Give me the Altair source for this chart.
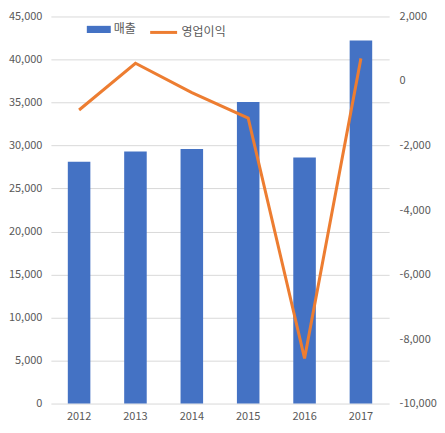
import altair as alt
import pandas as pd

years = ["2012", "2013", "2014", "2015", "2016", "2017"]
sales = [28100, 29300, 29600, 35050, 28600, 42200]
op_income = [-900, 550, -360, -1150, -8600, 700]
sales_name = "매출"
op_name = "영업이익"
left_ticks = list(range(0, 45001, 5000))
right_ticks = list(range(-10000, 2001, 2000))

df = pd.DataFrame({
    "year": years,
    "sales": sales,
    "op": op_income,
    "s1": [sales_name] * len(years),
    "s2": [op_name] * len(years),
})

FONT = "Noto Sans CJK KR"
GRAY = "#595959"
NUMFMT = "(datum.value < 0 ? '-' : '') + format(abs(datum.value), ',.0f')"

x = alt.X("year:N", title=None,
          scale=alt.Scale(paddingInner=0.6, paddingOuter=0.3),
          axis=alt.Axis(labelAngle=0, domain=False, ticks=False, labelPadding=7,
                        labelFont=FONT, labelFontSize=11, labelColor=GRAY))

bars = alt.Chart(df).mark_bar(color="#4472C4").encode(
    x=x,
    y=alt.Y("sales:Q", title=None,
            scale=alt.Scale(domain=[0, 45000], nice=False),
            axis=alt.Axis(orient="left", values=left_ticks, labelExpr=NUMFMT, domain=False,
                          ticks=False, labelPadding=9, grid=True, gridColor="#d9d9d9",
                          labelFont=FONT, labelFontSize=11, labelColor=GRAY)),
    color=alt.Color("s1:N",
                    scale=alt.Scale(domain=[sales_name], range=["#4472C4"]),
                    legend=alt.Legend(title=None, orient="none", legendX=36, legendY=1,
                                      symbolType="M-1,-0.3H1V0.3H-1Z", symbolSize=576,
                                      symbolStrokeWidth=0, padding=0, labelOffset=3,
                                      labelFont=FONT, labelFontSize=12, labelColor=GRAY)),
)

line = alt.Chart(df).mark_line(strokeWidth=3).encode(
    x=x,
    y=alt.Y("op:Q", title=None,
            scale=alt.Scale(domain=[-10000, 2000], nice=False),
            axis=alt.Axis(orient="right", values=right_ticks, domain=False, ticks=False,
                          labelPadding=10, grid=False, labelExpr=NUMFMT,
                          labelFont=FONT, labelFontSize=11, labelColor=GRAY)),
    stroke=alt.Stroke("s2:N",
                      scale=alt.Scale(domain=[op_name], range=["#ED7D31"]),
                      legend=alt.Legend(title=None, orient="none", legendX=98, legendY=1,
                                        symbolType="stroke", symbolSize=729,
                                        symbolStrokeWidth=3, padding=0, labelOffset=3,
                                        labelFont=FONT, labelFontSize=12, labelColor=GRAY)),
)

chart = alt.layer(bars, line).resolve_scale(
    y="independent", color="independent", stroke="independent"
).properties(
    width=339, height=388,
    padding={"left": 0, "top": 2, "right": 0, "bottom": 0},
    background="white",
).configure_view(stroke=None)

chart.save("out.html", embed_options={"renderer": "svg", "actions": False})
